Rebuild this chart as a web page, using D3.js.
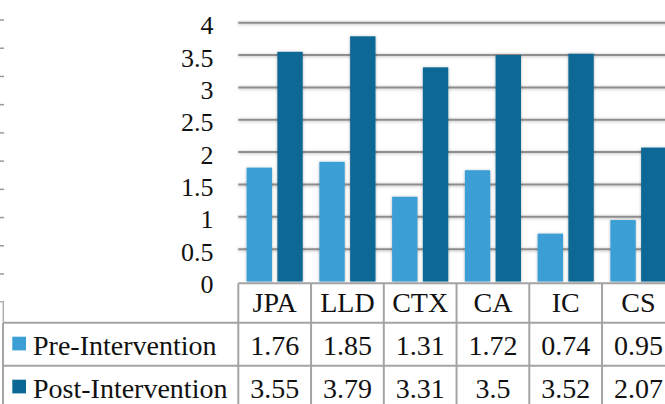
<!DOCTYPE html>
<html>
<head>
<meta charset="utf-8">
<script src="https://cdn.jsdelivr.net/npm/d3@7"></script>
</head>
<body style="margin:0; padding:0; background:#fff; overflow:hidden">
<svg id="chart" width="665" height="404"></svg>
<script>
// data
const categories = ["JPA", "LLD", "CTX", "CA", "IC", "CS"];
const seriesNames = ["Pre-Intervention", "Post-Intervention"];
const preValues = [1.76, 1.85, 1.31, 1.72, 0.74, 0.95];
const postValues = [3.55, 3.79, 3.31, 3.5, 3.52, 2.07];
const preLabels = ["1.76", "1.85", "1.31", "1.72", "0.74", "0.95"];
const postLabels = ["3.55", "3.79", "3.31", "3.5", "3.52", "2.07"];
const yTicks = [0, 0.5, 1, 1.5, 2, 2.5, 3, 3.5, 4];
const seriesColors = ["#3b9fd6", "#0b6896"];

const svg = d3.select("#chart").attr("font-family", "Liberation Serif");
const plot = {left: 238.3, right: 674.8, top: 22.7, bottom: 281.5};
const tableTop = 283.3;
const headerBottom = 322.7;
const rowH = 43;
const gridColor = "#8e8e8e";
const tableColor = "#a4a4a4";
const fontFamily = "Liberation Serif";

// 그림자
const defs = svg.append("defs");
defs.append("filter").attr("id", "shadow")
    .attr("filterUnits", "userSpaceOnUse")
    .attr("x", 0).attr("y", 0).attr("width", 700).attr("height", 404)
    .append("feDropShadow")
    .attr("dx", 0).attr("dy", 0.5).attr("stdDeviation", 1.6)
    .attr("flood-color", "#000").attr("flood-opacity", 0.3);

const xScale = d3.scaleBand().domain(categories).range([plot.left, plot.right]).padding(0);
const innerScale = d3.scaleBand().domain(seriesNames).range([0, xScale.bandwidth()])
    .paddingInner(0.175).paddingOuter(0.27);
const yScale = d3.scaleLinear().domain([0, 4]).range([plot.bottom, plot.top]);

// 왼쪽에 잘린 이웃 차트의 눈금
const sideScale = d3.scaleLinear().domain([0, 9]).range([274, 20]);
svg.append("g").selectAll("line")
    .data(d3.range(10))
    .join("line")
    .attr("x1", 0).attr("x2", 4)
    .attr("y1", d => sideScale(d)).attr("y2", d => sideScale(d))
    .style("stroke", "#9a9a9a").style("stroke-width", 1.5);
svg.append("path")
    .attr("d", "M0,301.7H3.3V322")
    .style("fill", "none").style("stroke", "#b0b0b0").style("stroke-width", 1.5);

// gridlines
svg.append("g").selectAll("line.grid")
    .data(yTicks.filter(d => d > 0))
    .join("line")
    .attr("class", "grid")
    .attr("x1", plot.left).attr("x2", plot.right)
    .attr("y1", d => yScale(d)).attr("y2", d => yScale(d))
    .style("stroke", gridColor).style("stroke-width", 2)
    .style("filter", "url(#shadow)");

// y labels
svg.append("g").selectAll("text")
    .data(yTicks)
    .join("text")
    .attr("x", 213.5)
    .attr("y", d => yScale(d) + 11.5)
    .attr("text-anchor", "end")
    .attr("font-family", fontFamily)
    .attr("font-size", 26)
    .attr("fill", "#111")
    .text(d => d);

// bars
const barData = categories.flatMap((c, i) => [
    {cat: c, series: seriesNames[0], value: preValues[i], color: seriesColors[0]},
    {cat: c, series: seriesNames[1], value: postValues[i], color: seriesColors[1]}
]);
svg.append("g").selectAll("rect.bar")
    .data(barData)
    .join("rect")
    .attr("class", "bar")
    .attr("x", d => xScale(d.cat) + innerScale(d.series))
    .attr("y", d => yScale(d.value))
    .attr("width", innerScale.bandwidth())
    .attr("height", d => yScale(0) - yScale(d.value))
    .style("fill", d => d.color)
    .style("filter", "url(#shadow)");

// data table
const table = svg.append("g");
const rowBottoms = [headerBottom, headerBottom + rowH, headerBottom + 2 * rowH];
// horizontal borders
table.append("line")
    .attr("x1", plot.left).attr("x2", plot.right)
    .attr("y1", tableTop).attr("y2", tableTop);
[headerBottom, headerBottom + rowH].forEach(y => {
    table.append("line")
        .attr("x1", 3).attr("x2", plot.right)
        .attr("y1", y).attr("y2", y);
});
// vertical borders
table.selectAll("line.col")
    .data(categories.concat(["end"]))
    .join("line")
    .attr("class", "col")
    .attr("x1", (d, i) => plot.left + i * xScale.bandwidth())
    .attr("x2", (d, i) => plot.left + i * xScale.bandwidth())
    .attr("y1", tableTop).attr("y2", 404);
table.append("line")
    .attr("x1", 3).attr("x2", 3)
    .attr("y1", headerBottom).attr("y2", 404);
table.selectAll("line")
    .style("stroke", tableColor).style("stroke-width", 2);

// header text
table.selectAll("text.head")
    .data(categories)
    .join("text")
    .attr("class", "head")
    .attr("x", d => xScale(d) + xScale.bandwidth() / 2)
    .attr("y", headerBottom - 10.4)
    .attr("text-anchor", "middle")
    .attr("font-family", fontFamily)
    .attr("font-size", 28)
    .attr("fill", "#111")
    .text(d => d);

// value rows
[preLabels, postLabels].forEach((labels, r) => {
    table.selectAll(`text.row${r}`)
        .data(labels)
        .join("text")
        .attr("class", `row${r}`)
        .attr("x", (d, i) => xScale(categories[i]) + xScale.bandwidth() / 2)
        .attr("y", rowBottoms[r + 1] - 10.6)
        .attr("text-anchor", "middle")
        .attr("font-family", fontFamily)
        .attr("font-size", 28)
        .attr("fill", "#111")
        .text(d => d);
});

// legend keys
seriesNames.forEach((name, r) => {
    table.append("rect")
        .attr("x", 12.3)
        .attr("y", rowBottoms[r] + 14)
        .attr("width", 13.7).attr("height", 13.7)
        .style("fill", seriesColors[r]);
    table.append("text")
        .attr("x", 33)
        .attr("y", rowBottoms[r + 1] - 10.6)
        .attr("font-family", fontFamily)
        .attr("font-size", 28)
        .attr("fill", "#111")
        .text(name);
});
</script>
</body>
</html>
